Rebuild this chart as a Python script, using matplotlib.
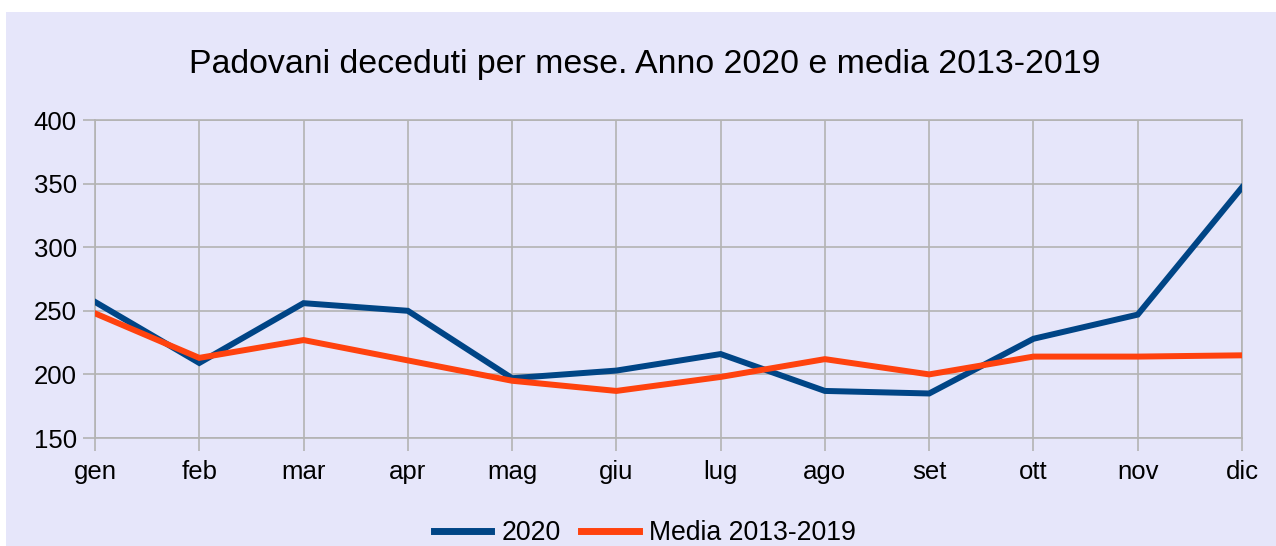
import matplotlib
matplotlib.use("Agg")
import matplotlib.pyplot as plt
from matplotlib.patches import Rectangle

months = ["gen", "feb", "mar", "apr", "mag", "giu", "lug", "ago", "set", "ott", "nov", "dic"]
deaths_2020 = [257, 209, 256, 250, 197, 203, 216, 187, 185, 228, 247, 347]
media_2013_2019 = [248, 213, 227, 211, 195, 187, 198, 212, 200, 214, 214, 215]
yticks = [150, 200, 250, 300, 350, 400]

W, H = 1276, 546
plt.rcParams['font.family'] = ['Liberation Sans', 'DejaVu Sans']
fig = plt.figure(figsize=(W / 100, H / 100), dpi=100)
fig.patch.set_facecolor("white")
bg = "#e6e6fa"
fig.patches.append(Rectangle((6 / W, 0), 1 - 6 / W, 1 - 12 / H, transform=fig.transFigure,
                             facecolor=bg, edgecolor="none", zorder=-10))

left, right, top, bottom = 95, 1242, 120, 438
ax = fig.add_axes([left / W, 1 - bottom / H, (right - left) / W, (bottom - top) / H])
ax.set_facecolor(bg)

x = list(range(len(months)))
ax.plot(x, deaths_2020, color="#004586", lw=4.3, label="2020", solid_joinstyle="miter", zorder=3)
ax.plot(x, media_2013_2019, color="#ff420e", lw=4.3, label="Media 2013-2019", solid_joinstyle="miter", zorder=3)

ax.set_xlim(0, len(months) - 1)
ax.set_ylim(150, 400)
ax.set_xticks(x)
ax.set_xticklabels(months)
ax.set_yticks(yticks)
ax.grid(True, color="#b3b3b3", lw=1.2)
ax.set_axisbelow(True)
for s in ax.spines.values():
    s.set_color("#b3b3b3")
    s.set_linewidth(1.2)
ax.tick_params(axis="x", length=9, color="#b3b3b3", width=1.2, labelsize=18.5, pad=7)
ax.tick_params(axis="y", length=9, color="#b3b3b3", width=1.2, labelsize=18.5, pad=4)

fig.text(645 / W, 1 - 65 / H, "Padovani deceduti per mese. Anno 2020 e media 2013-2019",
         ha="center", va="center", fontsize=24.4)

leg = fig.legend(loc="center", bbox_to_anchor=(645 / W, 1 - 533 / H), ncol=2, frameon=False,
                 fontsize=19.2, handlelength=2.15, columnspacing=0.75, handletextpad=0.4)
for l in leg.get_lines():
    l.set_linewidth(5)

fig.savefig("out.png", dpi=100, facecolor="white")
